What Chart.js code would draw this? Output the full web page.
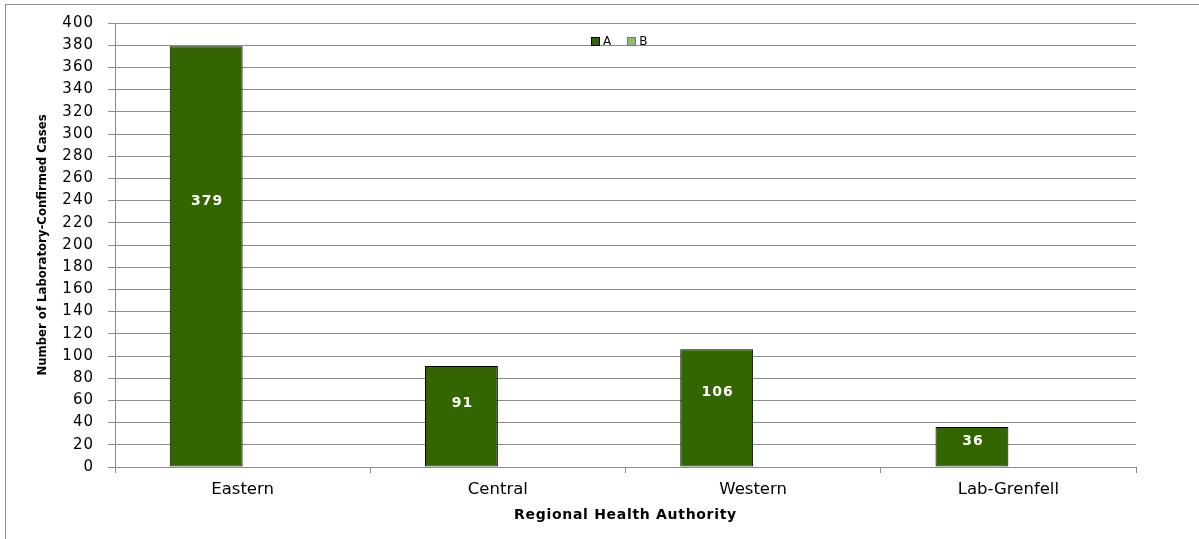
<!DOCTYPE html>
<html><head><meta charset="utf-8">
<script src="https://cdn.jsdelivr.net/npm/chart.js@4/dist/chart.umd.min.js"></script>
<style>
html,body{margin:0;padding:0;background:#fff;width:1199px;height:539px;overflow:hidden}
#frame{position:absolute;left:5px;top:4px;width:1300px;height:600px;border-left:1px solid #8c8c8c;border-top:1px solid #8c8c8c}
#wrap{position:absolute;left:0;top:0;width:1199px;height:539px}
#legend{position:absolute;top:34px;left:591px;font:12px "DejaVu Sans",sans-serif;display:flex;align-items:center;color:#000}
.sw{display:inline-block;width:7px;height:7px;border:1px solid;margin-right:3px}
.it{display:flex;align-items:center;margin-right:16px}
</style></head><body>
<div id="frame"></div>
<div id="wrap"><canvas id="c" width="1199" height="539"></canvas></div>
<div id="legend"></div>
<script>
const categories = ["Eastern", "Central", "Western", "Lab-Grenfell"];
const seriesNames = ["A", "B"];
const valuesA = [379, 91, 106, 36];
const valuesB = [null, null, null, null];
const yTicks = { min: 0, max: 400, step: 20 };
const xTitle = "Regional Health Authority";
const yTitle = "Number of Laboratory-Confirmed Cases";

const fills = ["#336600", "#9bbb59"];
const borders = ["#000000", "#4f81bd"];

const leg = document.getElementById('legend');
seriesNames.forEach((n, i) => {
  const it = document.createElement('span'); it.className = 'it';
  const sw = document.createElement('span'); sw.className = 'sw';
  sw.style.background = fills[i]; sw.style.borderColor = borders[i];
  it.appendChild(sw); it.appendChild(document.createTextNode(n));
  leg.appendChild(it);
});

// letter spacing per scale part
const spacingMap = {
  x: { drawLabels: '0px', drawTitle: '0.7px' },
  y: { drawLabels: '1px', drawTitle: '0px' }
};
const ctx = document.getElementById('c').getContext('2d');

const spacingPlugin = {
  id: 'spacing',
  beforeDraw(chart) {
    Object.keys(spacingMap).forEach(id => {
      const s = chart.scales[id];
      if (!s || s._patchedSpacing) return;
      Object.keys(spacingMap[id]).forEach(fn => {
        const orig = s[fn];
        const sp = spacingMap[id][fn];
        s[fn] = function (...args) {
          const c = this.ctx;
          c.save(); c.letterSpacing = sp;
          orig.apply(this, args);
          c.restore();
        };
      });
      s._patchedSpacing = true;
    });
  }
};

const labelPlugin = {
  id: 'barLabels',
  afterDatasetsDraw(chart) {
    const c = chart.ctx;
    const meta = chart.getDatasetMeta(0);
    c.save();
    c.letterSpacing = '1px';
    c.font = 'bold 14px "DejaVu Sans", sans-serif';
    c.fillStyle = '#ffffff';
    c.textAlign = 'center';
    c.textBaseline = 'middle';
    meta.data.forEach((el, i) => {
      const v = valuesA[i];
      if (v == null) return;
      const y = el.base - (el.base - el.y) * 0.63;
      c.fillText(String(v), el.x + 1, y);
    });
    c.restore();
  }
};

new Chart(ctx, {
  type: 'bar',
  data: {
    labels: categories,
    datasets: [
      { label: seriesNames[0], data: valuesA, backgroundColor: fills[0], borderColor: borders[0], borderWidth: 1, borderSkipped: false },
      { label: seriesNames[1], data: valuesB, backgroundColor: fills[1], borderColor: borders[1], borderWidth: 1 }
    ]
  },
  options: {
    responsive: false,
    animation: false,
    events: [],
    layout: { padding: { left: 0, right: 63, top: 20, bottom: 0 } },
    datasets: { bar: { categoryPercentage: 0.571, barPercentage: 1.0 } },
    plugins: { legend: { display: false }, tooltip: { enabled: false } },
    scales: {
      x: {
        grid: { display: true, drawOnChartArea: false, drawTicks: true, tickLength: 6, offset: true, color: '#8c8c8c' },
        border: { color: '#8c8c8c' },
        ticks: { color: '#000', font: { family: '"DejaVu Sans", sans-serif', size: 16.5 }, padding: 7, maxRotation: 0 },
        title: { display: true, text: xTitle, color: '#000', font: { family: '"DejaVu Sans", sans-serif', size: 14, weight: 'bold' }, padding: { top: 0, bottom: 15 } },
        afterFit(scale) { scale.height = 72; }
      },
      y: {
        min: yTicks.min, max: yTicks.max,
        ticks: { stepSize: yTicks.step, color: '#000', font: { family: '"DejaVu Sans", sans-serif', size: 15 }, padding: 14 },
        grid: { color: '#8c8c8c', tickLength: 7 },
        border: { color: '#8c8c8c' },
        title: { display: true, text: yTitle, color: '#000', font: { family: '"Liberation Sans Narrow", "DejaVu Sans Condensed", sans-serif', size: 13, weight: 'bold' }, padding: { top: 35, bottom: 0 } },
        afterFit(scale) { scale.width = 115; }
      }
    }
  },
  plugins: [spacingPlugin, labelPlugin]
});
</script>
</body></html>
